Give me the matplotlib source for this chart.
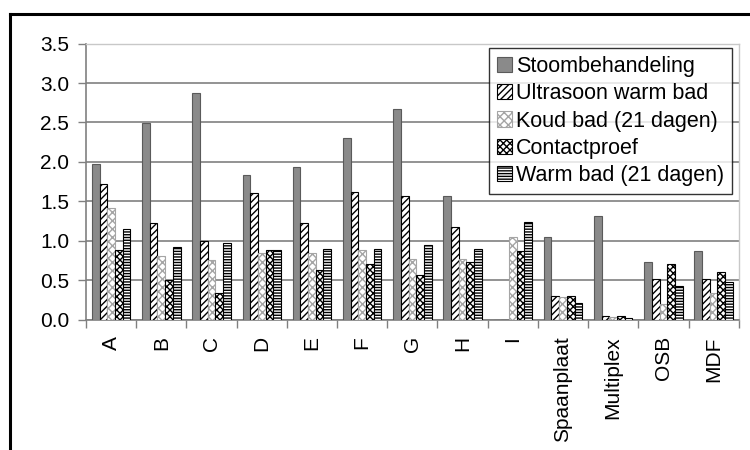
import matplotlib.pyplot as plt
import numpy as np
from matplotlib.lines import Line2D

plt.rcParams['font.family'] = ['Liberation Sans', 'DejaVu Sans']
plt.rcParams['hatch.linewidth'] = 1.0

categories = ['A', 'B', 'C', 'D', 'E', 'F', 'G', 'H', 'I',
              'Spaanplaat', 'Multiplex', 'OSB', 'MDF']

stoom = [1.97, 2.49, 2.88, 1.83, 1.94, 2.30, 2.67, 1.57, 0.0, 1.05, 1.31, 0.73, 0.87]
ultrasoon = [1.72, 1.23, 1.00, 1.60, 1.22, 1.62, 1.57, 1.17, 0.0, 0.30, 0.05, 0.52, 0.51]
koud = [1.41, 0.80, 0.76, 0.84, 0.84, 0.88, 0.77, 0.77, 1.05, 0.29, 0.03, 0.20, 0.33]
contact = [0.88, 0.50, 0.34, 0.88, 0.63, 0.70, 0.57, 0.73, 0.87, 0.30, 0.04, 0.71, 0.60]
warm = [1.15, 0.92, 0.97, 0.88, 0.89, 0.89, 0.95, 0.89, 1.24, 0.21, 0.02, 0.43, 0.47]

series = [
    ('Stoombehandeling', stoom, dict(facecolor='#8a8a8a', edgecolor='#5a5a5a', hatch=None)),
    ('Ultrasoon warm bad', ultrasoon, dict(facecolor='white', edgecolor='black', hatch='/////')),
    ('Koud bad (21 dagen)', koud, dict(facecolor='white', edgecolor='#a5a5a5', hatch='xxxx')),
    ('Contactproef', contact, dict(facecolor='white', edgecolor='black', hatch='xxxxx')),
    ('Warm bad (21 dagen)', warm, dict(facecolor='white', edgecolor='black', hatch='------')),
]

fig = plt.figure(figsize=(7.5, 4.5), dpi=100)
ax = fig.add_axes([0.1147, 0.29, 0.8703, 0.613])

x = np.arange(len(categories))
w = 0.153
for i, (name, vals, style) in enumerate(series):
    ax.bar(x + (i - 2) * w, vals, w, label=name, linewidth=0.8, zorder=3, **style)

ax.set_xlim(-0.5, len(categories) - 0.5)
ax.set_ylim(0, 3.5)
ax.set_yticks(np.arange(0, 3.51, 0.5))
ax.set_yticklabels([f'{v:.1f}' for v in np.arange(0, 3.51, 0.5)])
ax.yaxis.grid(True, color='#808080', linewidth=1.2, zorder=0)

ax.set_xticks(x)
ax.set_xticklabels(categories, rotation=90, va='top')
ax.set_xticks(np.arange(-0.5, len(categories)), minor=True)
ax.tick_params(axis='x', which='major', length=0, pad=12, labelsize=15)
ax.tick_params(axis='x', which='minor', length=6, width=1, color='#808080', direction='out')
ax.tick_params(axis='y', length=6, width=1, color='#808080', pad=6, labelsize=15)

for side in ['left', 'bottom']:
    ax.spines[side].set_color('#808080')
    ax.spines[side].set_linewidth(1.2)
for side in ['top', 'right']:
    ax.spines[side].set_color('#c8c8c8')
    ax.spines[side].set_linewidth(1)

leg = ax.legend(loc='upper right', bbox_to_anchor=(0.989, 0.984), borderaxespad=0,
                fontsize=15.5, frameon=True, fancybox=False, handlelength=0.7,
                handleheight=0.7, handletextpad=0.2, labelspacing=0.3, borderpad=0.35)
leg.get_frame().set_edgecolor('black')
leg.get_frame().set_linewidth(1.0)
leg.set_zorder(5)

# black frame around the figure (only top and left fall inside the canvas)
fig.add_artist(Line2D([10 / 750, 10 / 750], [0, 1 - 14 / 450], transform=fig.transFigure,
                      color='black', linewidth=2.2))
fig.add_artist(Line2D([10 / 750, 1], [1 - 14 / 450, 1 - 14 / 450], transform=fig.transFigure,
                      color='black', linewidth=2.2))

fig.savefig('out.png', dpi=100)
